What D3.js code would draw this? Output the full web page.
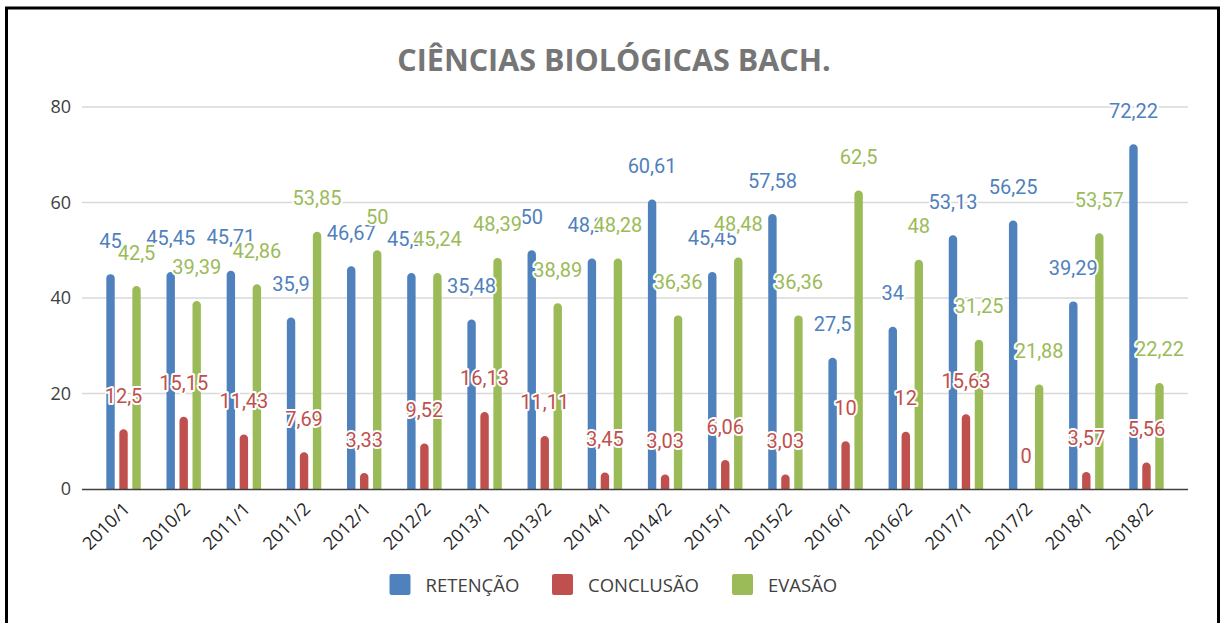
<!DOCTYPE html>
<html>
<head>
<meta charset="utf-8">
<script src="https://cdn.jsdelivr.net/npm/d3@7"></script>
<style>
  html, body { margin: 0; padding: 0; background: #fff; overflow: hidden; }
  svg { display: block; }
</style>
</head>
<body>
<svg id="chart" width="1221" height="623"></svg>
<script>
const categories = ["2010/1","2010/2","2011/1","2011/2","2012/1","2012/2","2013/1","2013/2","2014/1","2014/2","2015/1","2015/2","2016/1","2016/2","2017/1","2017/2","2018/1","2018/2"];
const retencao  = [45, 45.45, 45.71, 35.9, 46.67, 45.24, 35.48, 50, 48.28, 60.61, 45.45, 57.58, 27.5, 34, 53.13, 56.25, 39.29, 72.22];
const conclusao = [12.5, 15.15, 11.43, 7.69, 3.33, 9.52, 16.13, 11.11, 3.45, 3.03, 6.06, 3.03, 10, 12, 15.63, 0, 3.57, 5.56];
const evasao    = [42.5, 39.39, 42.86, 53.85, 50, 45.24, 48.39, 38.89, 48.28, 36.36, 48.48, 36.36, 62.5, 48, 31.25, 21.88, 53.57, 22.22];
const seriesNames = ["RETENÇÃO", "CONCLUSÃO", "EVASÃO"];
const yTicks = [0, 20, 40, 60, 80];
const titleText = "CIÊNCIAS BIOLÓGICAS BACH.";

(function () {
const colors = ["#4f81bd", "#c0504d", "#9bbb59"];
const seriesData = [retencao, conclusao, evasao];

const svg = d3.select("#chart");
const pLeft = 82, pRight = 1188, pTop = 107, pBottom = 489;

// frame
svg.append("rect").attr("x", 6.5).attr("y", 8).attr("width", 1212).attr("height", 640)
  .attr("fill", "#fff").attr("stroke", "#000").attr("stroke-width", 3);

// title
svg.append("text").attr("x", 614).attr("y", 71).attr("text-anchor", "middle")
  .attr("font-family", "'Open Sans', sans-serif").attr("font-weight", "bold")
  .attr("font-size", 30.5).attr("fill", "#767676").text(titleText);

const x = d3.scalePoint().domain(categories).range([pLeft, pRight]).padding(0.69);
const y = d3.scaleLinear().domain([0, 80]).range([pBottom, pTop]);

// gridlines
svg.append("g").selectAll("line").data(yTicks.filter(d => d > 0)).join("line")
  .attr("x1", pLeft).attr("x2", pRight)
  .attr("y1", d => y(d)).attr("y2", d => y(d))
  .attr("stroke", "#d9d9d9").attr("stroke-width", 1.5);

// y axis labels
const yAxis = d3.axisLeft(y).tickValues(yTicks).tickSize(0).tickPadding(11).tickFormat(d3.format("d"));
const gy = svg.append("g").attr("transform", `translate(${pLeft},0)`).call(yAxis);
gy.select(".domain").remove();
gy.selectAll("text").attr("font-family", "'Open Sans', sans-serif").attr("font-size", 18).attr("fill", "#404040");

// bars
const bw = 8.4, off = [-13, 0, 13];
function barPath(cx, v) {
  const x0 = cx - bw / 2, x1 = cx + bw / 2, yb = y(0), yt = y(v);
  if (yb - yt <= 0) return "";
  const r = Math.min(bw / 2, (yb - yt));
  return `M${x0},${yb} L${x0},${yt + r} A${r},${r} 0 0 1 ${x0 + r},${yt} L${x1 - r},${yt} A${r},${r} 0 0 1 ${x1},${yt + r} L${x1},${yb} Z`;
}
seriesData.forEach((arr, si) => {
  svg.append("g").selectAll("path").data(arr).join("path")
    .attr("d", (d, i) => barPath(x(categories[i]) + off[si], d))
    .attr("fill", colors[si]);
});

// x axis
const xAxis = d3.axisBottom(x).tickSize(0).tickPadding(0);
const gx = svg.append("g").attr("transform", `translate(0,${pBottom})`).call(xAxis);
gx.select(".domain").attr("d", `M${pLeft},0.5H${pRight}`).attr("stroke", "#404040").attr("stroke-width", 1.5);
gx.selectAll(".tick text")
  .attr("font-family", "'Open Sans', sans-serif").attr("font-size", 18).attr("fill", "#262626")
  .attr("text-anchor", "end").attr("dy", null).attr("y", 0)
  .attr("transform", "translate(7,21) rotate(-45)");

// data labels
const fmt = v => String(v).replace(".", ",");
seriesData.forEach((arr, si) => {
  svg.append("g").selectAll("text").data(arr).join("text")
    .attr("x", (d, i) => x(categories[i]) + off[si])
    .attr("y", d => y(d) - 26.5)
    .attr("text-anchor", "middle")
    .attr("font-family", "Roboto, sans-serif").attr("font-size", 20)
    .attr("fill", colors[si])
    .attr("stroke", "#fff").attr("stroke-width", 4).attr("stroke-linejoin", "round")
    .attr("paint-order", "stroke")
    .text(d => fmt(d));
});

// legend
const legendX = [389.5, 552, 732];
const lg = svg.append("g");
seriesNames.forEach((name, i) => {
  lg.append("rect").attr("x", legendX[i]).attr("y", 574).attr("width", 21).attr("height", 21)
    .attr("rx", 2).attr("fill", colors[i]);
  lg.append("text").attr("x", legendX[i] + 36).attr("y", 591.5)
    .attr("font-family", "'Open Sans', sans-serif").attr("font-size", 18.5).attr("fill", "#404040")
    .text(name);
});
})();
</script>
</body>
</html>
